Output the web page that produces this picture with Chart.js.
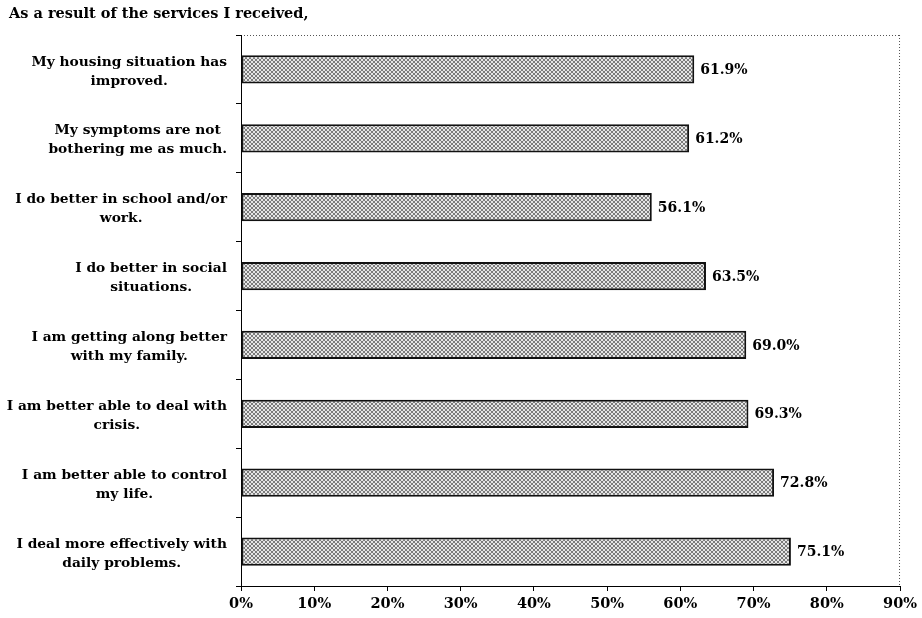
<!DOCTYPE html>
<html>
<head>
<meta charset="utf-8">
<script src="https://cdn.jsdelivr.net/npm/chart.js@4.4.1/dist/chart.umd.min.js"></script>
<style>
  html, body { margin: 0; padding: 0; background: #fff; }
  #wrap { width: 922px; height: 618px; }
</style>
</head>
<body>
<div id="wrap"><canvas id="servicesChart" width="922" height="618"></canvas></div>
<script>
/* ---------- data ---------- */

const chartTitle = "As a result of the services I received,";

const categories = [
  ["My housing situation has", "improved."],
  ["My symptoms are not", "bothering me as much."],
  ["I do better in school and/or", "work."],
  ["I do better in social", "situations."],
  ["I am getting along better", "with my family."],
  ["I am better able to deal with", "crisis."],
  ["I am better able to control", "my life."],
  ["I deal more effectively with", "daily problems."]
];

const percentages = [61.9, 61.2, 56.1, 63.5, 69.0, 69.3, 72.8, 75.1];

const xTicks = [0, 10, 20, 30, 40, 50, 60, 70, 80, 90];

/* ---------- look ---------- */

const FONT = "'DejaVu Serif', Georgia, serif";

// little crosshatch tile for the bar fill
function makeHatch() {
  const c = document.createElement("canvas");
  c.width = 4; c.height = 4;
  const g = c.getContext("2d");
  g.fillStyle = "#e6e6e6";
  g.fillRect(0, 0, 4, 4);
  g.fillStyle = "#7c7c7c";
  [[0,0],[1,1],[2,2],[3,3],[3,0],[2,1],[1,2],[0,3]].forEach(p => g.fillRect(p[0], p[1], 1, 1));
  return g.createPattern(c, "repeat");
}

// title, dotted frame, category labels and value labels
const decorations = {
  id: "decorations",
  beforeDraw(chart) {
    const { ctx, chartArea } = chart;
    ctx.save();
    ctx.fillStyle = "#000";
    ctx.font = "bold 14.5px " + FONT;
    ctx.textAlign = "left";
    ctx.textBaseline = "middle";
    ctx.fillText(chartTitle, 9, 14);

    ctx.strokeStyle = "#555";
    ctx.lineWidth = 1;
    ctx.setLineDash([1, 2]);
    ctx.beginPath();
    ctx.moveTo(chartArea.left, chartArea.top + 0.5);
    ctx.lineTo(chartArea.right, chartArea.top + 0.5);
    ctx.moveTo(chartArea.right - 0.5, chartArea.top);
    ctx.lineTo(chartArea.right - 0.5, chartArea.bottom);
    ctx.stroke();
    ctx.restore();
  },
  afterDraw(chart) {
    const { ctx } = chart;
    const yScale = chart.scales.y;
    ctx.save();
    ctx.fillStyle = "#000";
    ctx.font = "bold 13.8px " + FONT;
    ctx.textBaseline = "middle";
    ctx.textAlign = "center";
    const rightEdge = 227;
    const lineH = 19;
    categories.forEach((lines, i) => {
      const cy = yScale.getPixelForValue(i) + 2;
      const w = Math.max(...lines.map(l => ctx.measureText(l).width));
      const cx = rightEdge - w / 2;
      lines.forEach((l, k) => {
        ctx.fillText(l, cx, cy + (k - (lines.length - 1) / 2) * lineH);
      });
    });

    ctx.font = "bold 14px " + FONT;
    ctx.textAlign = "left";
    const meta = chart.getDatasetMeta(0);
    meta.data.forEach((bar, i) => {
      ctx.fillText(percentages[i].toFixed(1) + "%", bar.x + 6, bar.y + 1);
    });
    ctx.restore();
  }
};

new Chart(document.getElementById("servicesChart"), {
  type: "bar",
  data: {
    labels: categories,
    datasets: [{
      data: percentages,
      backgroundColor: makeHatch(),
      borderColor: "#111",
      borderWidth: 2,
      borderSkipped: false,
      barPercentage: 0.41,
      categoryPercentage: 1
    }]
  },
  options: {
    indexAxis: "y",
    responsive: false,
    animation: false,
    layout: { padding: { top: 35, right: 19, left: 0, bottom: 0 } },
    plugins: {
      legend: { display: false },
      tooltip: { enabled: false }
    },
    scales: {
      x: {
        min: 0,
        max: 90,
        afterBuildTicks(scale) { scale.ticks = xTicks.map(v => ({ value: v })); },
        afterFit(scale) { scale.height = 32; },
        ticks: {
          color: "#000",
          font: { family: FONT, size: 14.5, weight: "bold" },
          padding: 5,
          callback: v => v + "%"
        },
        grid: { drawOnChartArea: false, drawTicks: true, tickLength: 5, color: "#000" },
        border: { color: "#000", width: 1 }
      },
      y: {
        afterFit(scale) { scale.width = 241; },
        ticks: { display: false },
        grid: { offset: true, drawOnChartArea: false, drawTicks: true, tickLength: 5, color: "#000" },
        border: { color: "#000", width: 1 }
      }
    }
  },
  plugins: [decorations]
});
</script>
</body>
</html>
